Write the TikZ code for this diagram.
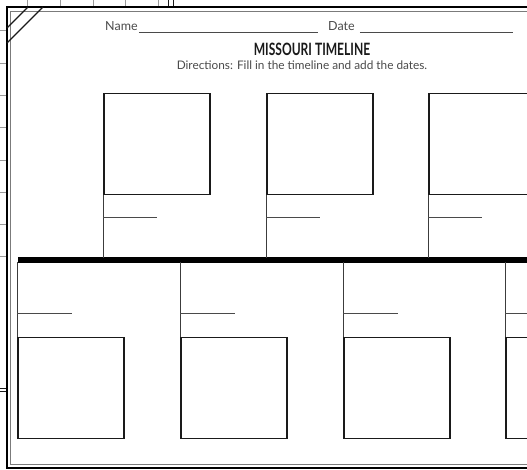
\documentclass[tikz,border=0pt]{standalone}
\usepackage{fontspec}
\setmainfont{Lato}
\usetikzlibrary{positioning,calc}
\definecolor{Ink}{HTML}{1A1A1A}
\definecolor{Pencil}{HTML}{4A4A4A}
\definecolor{Faint}{HTML}{9A9A9A}
\tikzset{
 tbox/.style={draw=Ink,line width=1.5pt,minimum width=106pt,minimum height=101pt,inner sep=0pt},
 stem/.style={draw=Ink!85,line width=1pt},
 tick/.style={draw=Pencil,line width=1pt},
 bar/.style={draw=black,line width=6pt},
 label/.style={font=\fontsize{12.5}{14}\selectfont,text=Pencil,inner sep=0pt}
}

\begin{document}
\begin{tikzpicture}[x=1pt,y=-1pt]
\useasboundingbox (0,0) rectangle (527,469);
% sheet behind the page
\foreach \y in {30,63,95,127,160,192,224,256} \draw[Faint,line width=0.6pt] (0,\y)--(6,\y);
\foreach \x in {27,60,93,125,158} \draw[Faint,line width=0.6pt] (\x,0)--(\x,6);
\draw[Ink,line width=1pt] (168,0)--(168,6) (173,0)--(173,6);
\draw[Ink,line width=1pt] (0,388)--(6,388) (0,391)--(6,391);
% page frame
\draw[black,line width=2pt] (6.7,6.7) rectangle (545,467.5);
\draw[Faint!80!black,line width=1pt] (10.7,11.2) rectangle (545,464.5);
\draw[Ink,line width=1.2pt] (28,7)--(7,28) (43,7)--(7,43);
% heading
\node[label,anchor=base west] (name) at (105,30) {Name};
\node[label,anchor=base west] (date) at (328,30) {Date};
\coordinate (nameend) at (318,32);
\coordinate (dateend) at (513,32);
\draw[Pencil,line width=1pt] ($(name.base east)+(1,2)$)--(nameend);
\draw[Pencil,line width=1pt] ($(date.base east)+(5,2)$)--(dateend);
\node[font=\fontsize{17}{19}\selectfont\bfseries,text=Ink,anchor=base,inner sep=0pt] (title) at (312,55) {\scalebox{0.71}[1]{MISSOURI TIMELINE}};
\node[font=\fontsize{11.8}{13}\selectfont,text=Pencil,anchor=base,inner sep=0pt] (dirs) at (302,69.5) {Directions: Fill in the timeline and add the dates.};
% timeline
\coordinate (barl) at (18,260);
\coordinate (barr) at (530,260);
\draw[bar] (barl)--(barr);
% events above the line
\foreach \i/\x in {1/157,2/320,3/482} {
 \node[tbox] (up\i) at (\x,144) {};
 \coordinate (upfoot\i) at ($(up\i.south west)+(0,63)$);
 \draw[stem] (up\i.south west)--(upfoot\i);
 \coordinate (upmark\i) at ($(up\i.south west)+(0,22)$);
 \draw[tick] (upmark\i)--++(54,0);
}
% events below the line
\foreach \i/\x in {1/71,2/234,3/397,4/559} {
 \node[tbox] (dn\i) at (\x,388) {};
 \coordinate (dnhead\i) at ($(dn\i.north west)+(0,-75)$);
 \draw[stem] (dnhead\i)--(dn\i.north west);
 \coordinate (dnmark\i) at ($(dn\i.north west)+(0,-23)$);
 \draw[tick] (dnmark\i)--++(55,0);
}
\end{tikzpicture}
\end{document}
